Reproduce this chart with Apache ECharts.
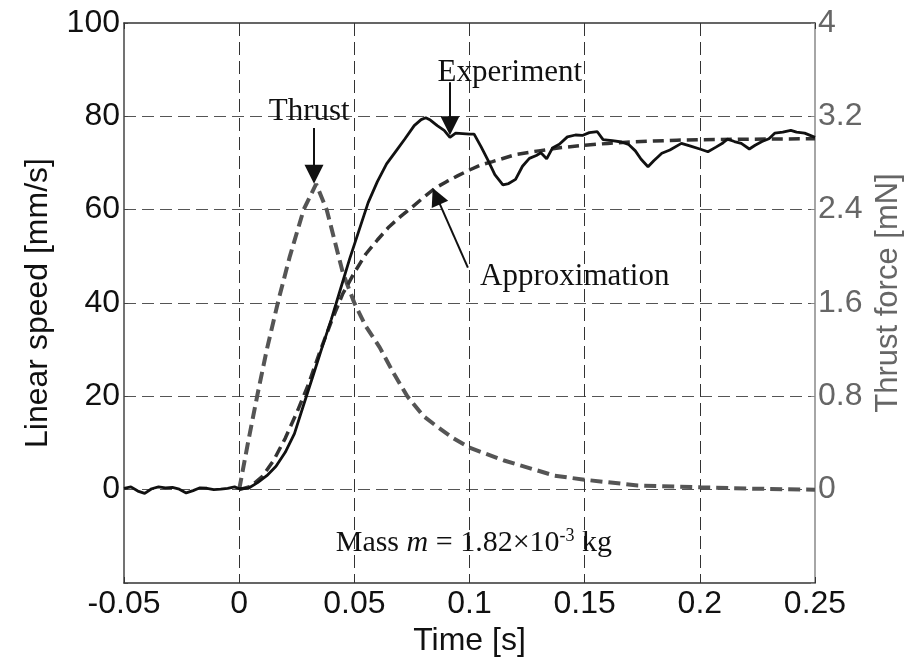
<!DOCTYPE html>
<html>
<head>
<meta charset="utf-8">
<title>Linear speed and thrust force</title>
<script src="https://cdn.jsdelivr.net/npm/echarts@6/dist/echarts.min.js"></script>
<style>
  html, body { margin: 0; padding: 0; background: #fff; }
  #chart { width: 915px; height: 657px; }
</style>
</head>
<body>
<div id="chart"></div>
<script>
// experiment (measured speed, mm/s)
var expTime = [-0.05, -0.047, -0.044, -0.041, -0.038, -0.035, -0.032, -0.029, -0.026, -0.023, -0.02, -0.017, -0.014, -0.011, -0.008, -0.005, -0.002, 0,
  0.004, 0.008, 0.012, 0.016, 0.02, 0.024, 0.028, 0.032, 0.036, 0.04, 0.044, 0.048, 0.052, 0.056, 0.06, 0.064, 0.068, 0.072, 0.076, 0.079, 0.081, 0.083, 0.086, 0.089, 0.0915, 0.094, 0.097, 0.1, 0.102,
  0.105, 0.108, 0.111, 0.1145, 0.117, 0.12, 0.123, 0.126, 0.129, 0.131, 0.1335, 0.136, 0.139, 0.1425, 0.146, 0.149, 0.152, 0.1555, 0.158, 0.162, 0.166, 0.169, 0.172, 0.1745, 0.1775, 0.18, 0.1835, 0.187,
  0.192, 0.196, 0.2, 0.2035, 0.207, 0.21, 0.212, 0.215, 0.218, 0.2215, 0.224, 0.227, 0.23, 0.2325, 0.236, 0.2395, 0.242, 0.2455, 0.25];
var expSpeed = [0.3, 0.6, -0.3, -0.8, 0.2, 0.6, 0.4, 0.5, 0.1, -0.7, -0.2, 0.4, 0.3, 0.0, 0.1, 0.3, 0.6, 0.2,
  0.3, 1.5, 3.0, 5.0, 8.0, 12.0, 18.2, 24.3, 30.5, 36.5, 43.0, 49.5, 55.5, 61.5, 66.0, 69.8, 72.5, 75.2, 78.0, 79.3, 79.7, 79.2, 78.0, 77.0, 75.5, 76.4, 76.3, 76.2, 76.2,
  73.5, 70.6, 67.5, 65.3, 65.6, 66.5, 69.3, 71.0, 71.6, 72.2, 70.9, 73.2, 74.0, 75.6, 76.0, 75.9, 76.5, 76.7, 75.0, 74.8, 74.5, 74.0, 72.6, 70.8, 69.2, 70.5, 72.1, 72.8,
  74.2, 73.6, 73.0, 72.4, 73.4, 74.3, 75.1, 74.6, 74.2, 73.0, 73.8, 74.6, 75.2, 76.4, 76.6, 77.0, 76.6, 76.4, 75.5];

// approximation (mm/s)
var approxTime = [0, 0.005, 0.01, 0.015, 0.02, 0.025, 0.03, 0.035, 0.04, 0.045, 0.05, 0.055, 0.06, 0.065, 0.07, 0.075, 0.08, 0.085, 0.09, 0.095, 0.1, 0.105, 0.11, 0.12, 0.13, 0.14, 0.15, 0.16, 0.17, 0.18, 0.19, 0.2, 0.22, 0.25];
var approxSpeed = [0, 0.7, 2.8, 6.3, 11.0, 16.5, 22.5, 29.5, 36.0, 42.0, 46.5, 50.5, 53.5, 56.3, 58.5, 60.5, 62.6, 64.6, 66.0, 67.3, 68.5, 69.6, 70.3, 71.8, 72.6, 73.3, 73.8, 74.2, 74.5, 74.7, 74.9, 75.0, 75.1, 75.2];

// thrust force (mN)
var thrustTime = [0, 0.004, 0.008, 0.012, 0.017, 0.022, 0.028, 0.0334, 0.038, 0.045, 0.05, 0.055, 0.061, 0.067, 0.073, 0.08, 0.086, 0.093, 0.1, 0.115, 0.137, 0.15, 0.173, 0.2, 0.224, 0.25];
var thrustForce = [0, 0.42, 0.82, 1.2, 1.62, 2.0, 2.4, 2.62, 2.4, 1.86, 1.6, 1.4, 1.22, 1.0, 0.8, 0.63, 0.54, 0.44, 0.36, 0.25, 0.12, 0.085, 0.036, 0.02, 0.008, 0];

var xTicks = { min: -0.05, max: 0.25, interval: 0.05 };
var speedTicks = { min: -20, max: 100, interval: 20 };
var forceTicks = { min: -0.8, max: 4, interval: 0.8 };

function zip(a, b) {
  return a.map(function (v, i) { return [v, b[i]]; });
}

var chart = echarts.init(document.getElementById('chart'));
var sans = 'Liberation Sans, Arial, sans-serif';
var serif = 'Liberation Serif, Times New Roman, serif';

var option = {
  animation: false,
  grid: { left: 124, right: 100, top: 23, bottom: 74, outerBoundsMode: 'none', containLabel: false },
  xAxis: [{
    type: 'value',
    min: xTicks.min, max: xTicks.max, interval: xTicks.interval,
    name: 'Time [s]',
    nameLocation: 'middle',
    nameGap: 34,
    nameTextStyle: { fontFamily: sans, fontSize: 32, color: '#111', verticalAlign: 'top' },
    axisLine: { onZero: false, lineStyle: { color: '#333', width: 1.5 } },
    axisTick: { inside: true, length: 6, lineStyle: { color: '#333' } },
    axisLabel: {
      fontFamily: sans, fontSize: 32, color: '#111', margin: 5,
      formatter: function (v) { return String(+v.toFixed(2)); }
    },
    splitLine: { show: true, showMinLine: false, showMaxLine: false, lineStyle: { color: '#333', type: [13, 6], width: 1 } }
  }, {
    type: 'value', position: 'top',
    min: xTicks.min, max: xTicks.max, interval: xTicks.interval,
    axisLine: { show: true, onZero: false, lineStyle: { color: '#333', width: 1.5 } },
    axisTick: { inside: true, length: 6, lineStyle: { color: '#333' } },
    axisLabel: { show: false },
    splitLine: { show: false }
  }],
  yAxis: [{
    type: 'value',
    min: speedTicks.min, max: speedTicks.max, interval: speedTicks.interval,
    name: 'Linear speed [mm/s]',
    nameLocation: 'middle',
    nameRotate: 90,
    nameGap: 70,
    nameTextStyle: { fontFamily: sans, fontSize: 32, color: '#111' },
    axisLine: { show: true, onZero: false, lineStyle: { color: '#444', width: 1.5 } },
    axisTick: { show: true, inside: true, length: 4, lineStyle: { color: '#444' } },
    axisLabel: {
      fontFamily: sans, fontSize: 32, color: '#111', margin: 4,
      formatter: function (v) { return v < 0 ? '' : String(v); }
    },
    splitLine: { show: true, showMinLine: false, showMaxLine: false, lineStyle: { color: '#555', type: [12, 6], width: 1 } }
  }, {
    type: 'value', position: 'right',
    min: forceTicks.min, max: forceTicks.max, interval: forceTicks.interval,
    name: 'Thrust force [mN]',
    nameLocation: 'middle',
    nameRotate: 90,
    nameGap: 58,
    nameTextStyle: { fontFamily: sans, fontSize: 31, color: '#666', padding: [0, 0, 0, 20] },
    axisLine: { show: true, onZero: false, lineStyle: { color: '#888', width: 1.5 } },
    axisTick: { show: true, inside: true, length: 4, lineStyle: { color: '#888' } },
    axisLabel: {
      fontFamily: sans, fontSize: 32, color: '#666', margin: 3,
      formatter: function (v) { return v < 0 ? '' : String(+v.toFixed(1)); }
    },
    splitLine: { show: false }
  }],
  series: [{
    name: 'Thrust',
    type: 'line',
    yAxisIndex: 1,
    showSymbol: false,
    data: zip(thrustTime, thrustForce),
    lineStyle: { color: '#555', width: 4, type: [12, 6] },
    markPoint: {
      symbol: 'rect', symbolSize: 1,
      itemStyle: { color: 'rgba(0,0,0,0)' },
      label: { show: true, position: 'inside', fontFamily: serif, fontSize: 31, color: '#111' },
      data: [{ coord: [0.0304, 80.9 / 25], label: { formatter: 'Thrust' } }]
    }
  }, {
    name: 'Approximation',
    type: 'line',
    showSymbol: false,
    data: zip(approxTime, approxSpeed),
    lineStyle: { color: '#333', width: 3.5, type: [11, 6] },
    markPoint: {
      symbol: 'rect', symbolSize: 1,
      itemStyle: { color: 'rgba(0,0,0,0)' },
      label: {
        show: true, position: 'inside', fontFamily: serif, fontSize: 31, color: '#111',
        rich: {
          a: { fontFamily: serif, fontSize: 30, color: '#111' },
          i: { fontFamily: serif, fontSize: 30, fontStyle: 'italic', color: '#111' },
          s: { fontFamily: serif, fontSize: 18, color: '#111', verticalAlign: 'top', padding: [0, 0, 14, 0] }
        }
      },
      data: [
        { coord: [0.1457, 45.7], label: { formatter: 'Approximation' } },
        { coord: [0.1019, -11.4], label: { formatter: '{a|Mass }{i|m}{a| = 1.82×10}{s|-3}{a| kg}' } }
      ]
    },
    markLine: {
      silent: true,
      symbol: ['none', 'triangle'],
      symbolSize: 18,
      label: { show: false },
      lineStyle: { color: '#111', width: 2, type: 'solid' },
      data: [[{ coord: [0.0993, 47.6] }, { coord: [0.0856, 62.9] }]]
    }
  }, {
    name: 'Experiment',
    type: 'line',
    showSymbol: false,
    data: zip(expTime, expSpeed),
    lineStyle: { color: '#111', width: 2.8 },
    markPoint: {
      symbol: 'rect', symbolSize: 1,
      itemStyle: { color: 'rgba(0,0,0,0)' },
      label: { show: true, position: 'inside', fontFamily: serif, fontSize: 31, color: '#111' },
      data: [{ coord: [0.1175, 89.3], label: { formatter: 'Experiment' } }]
    },
    markLine: {
      silent: true,
      symbol: ['none', 'triangle'],
      symbolSize: 19,
      label: { show: false },
      lineStyle: { color: '#111', width: 2, type: 'solid' },
      data: [
        [{ coord: [0.0325, 77.5] }, { coord: [0.0325, 67.6] }],
        [{ coord: [0.0915, 87.3] }, { coord: [0.0915, 78.0] }]
      ]
    }
  }]
};

chart.setOption(option);
</script>
</body>
</html>
